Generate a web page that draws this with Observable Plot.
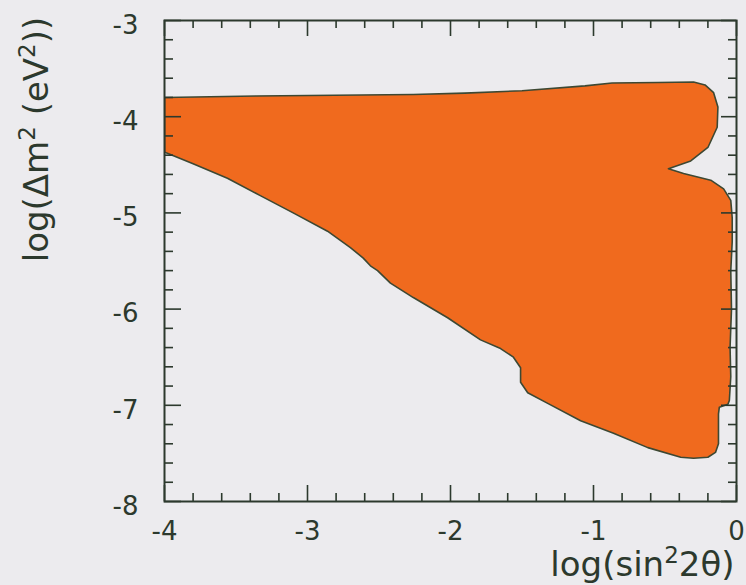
<!DOCTYPE html>
<html>
<head>
<meta charset="utf-8">
<script src="https://cdn.jsdelivr.net/npm/d3@7"></script>
<script src="https://cdn.jsdelivr.net/npm/@observablehq/plot@0.6"></script>
<style>
  body { margin: 0; background: #ecebee; }
  #chart svg { display: block; }
</style>
</head>
<body>
<div id="chart"></div>
<script>
// Allowed region in the (log sin²2θ, log Δm²) plane, traced clockwise
// from the upper-left corner of the frame.
const logSin2 = [
  -4.00, -3.36, -2.26, -1.90, -1.50, -1.06, -0.87, -0.55, -0.30, -0.22,
  -0.16, -0.13, -0.135, -0.20, -0.32, -0.476, -0.37, -0.18, -0.09, -0.04,
  -0.03, -0.03, -0.04, -0.035, -0.045, -0.04, -0.05, -0.06, -0.12, -0.126,
  -0.126, -0.147, -0.20, -0.30, -0.39, -0.62, -0.86, -1.09, -1.32, -1.46,
  -1.51, -1.51, -1.56, -1.65, -1.79, -2.02, -2.26, -2.42, -2.51, -2.56,
  -2.61, -2.70, -2.86, -3.10, -3.33, -3.56, -3.80, -3.98, -4.00
];
const logDm2 = [
  -3.80, -3.785, -3.77, -3.755, -3.73, -3.68, -3.65, -3.645, -3.64, -3.67,
  -3.75, -3.90, -4.11, -4.32, -4.46, -4.54, -4.59, -4.66, -4.75, -4.87,
  -5.05, -5.30, -5.60, -6.00, -6.40, -6.70, -6.95, -6.99, -7.02, -7.09,
  -7.40, -7.49, -7.54, -7.55, -7.54, -7.44, -7.29, -7.16, -6.98, -6.87,
  -6.76, -6.61, -6.50, -6.41, -6.32, -6.09, -5.88, -5.73, -5.60, -5.55,
  -5.47, -5.36, -5.19, -5.00, -4.82, -4.64, -4.49, -4.38, -4.37
];

// Axis ticks
const xMajor = [-4, -3, -2, -1, 0];
const yMajor = [-8, -7, -6, -5, -4, -3];
const xMinor = d3.range(-4, 0.001, 0.2).map(v => +v.toFixed(1)).filter(v => !Number.isInteger(v));
const yMinor = d3.range(-8, -2.999, 0.2).map(v => +v.toFixed(1)).filter(v => !Number.isInteger(v));

const xTitle = "log(sin²2θ)";
const yTitle = "log(Δm² (eV²))";

const region = logSin2.map((s, i) => ({s, m: logDm2[i]}));

const W = 746, H = 585;
const mL = 164, mR = 10, mT = 20, mB = 84;
const innerW = W - mL - mR, innerH = H - mT - mB;
const ink = "#2c392d";
const titleSize = 34;

const chart = Plot.plot({
  width: W,
  height: H,
  marginLeft: mL,
  marginRight: mR,
  marginTop: mT,
  marginBottom: mB,
  style: {background: "#ecebee", fontFamily: "'DejaVu Sans', sans-serif", color: ink},
  x: {domain: [-4, 0], axis: null},
  y: {domain: [-8, -3], axis: null},
  marks: [
    Plot.line(region, {
      x: "s", y: "m", curve: "linear-closed", clip: "frame",
      fill: "#f06a1e", stroke: "#3d4833", strokeWidth: 1.6, strokeLinejoin: "round"
    }),
    // bottom ticks
    Plot.ruleX(xMajor, {x: d => d, insetTop: innerH - 16, stroke: ink, strokeWidth: 1.6}),
    Plot.ruleX(xMinor, {x: d => d, insetTop: innerH - 8, stroke: ink, strokeWidth: 1.6}),
    // top ticks
    Plot.ruleX(xMajor, {x: d => d, insetBottom: innerH - 16, stroke: ink, strokeWidth: 1.6}),
    Plot.ruleX(xMinor, {x: d => d, insetBottom: innerH - 8, stroke: ink, strokeWidth: 1.6}),
    // left ticks
    Plot.ruleY(yMajor, {y: d => d, insetRight: innerW - 17, stroke: ink, strokeWidth: 1.6}),
    Plot.ruleY(yMinor, {y: d => d, insetRight: innerW - 9, stroke: ink, strokeWidth: 1.6}),
    // right ticks
    Plot.ruleY(yMajor, {y: d => d, insetLeft: innerW - 15, stroke: ink, strokeWidth: 1.6}),
    Plot.ruleY(yMinor, {y: d => d, insetLeft: innerW - 8, stroke: ink, strokeWidth: 1.6}),
    Plot.frame({stroke: ink, strokeWidth: 2}),
    // tick labels
    Plot.text(xMajor, {
      x: d => d, text: d => String(d), frameAnchor: "bottom",
      lineAnchor: "top", dy: 20, fontSize: 26, fill: ink
    }),
    Plot.text(yMajor, {
      y: d => d, text: d => String(d), frameAnchor: "left",
      textAnchor: "end", lineAnchor: "middle", dx: -26, dy: 5, fontSize: 26, fill: ink
    }),
    // axis titles
    Plot.text([xTitle], {
      text: d => d, frameAnchor: "bottom-right", textAnchor: "end",
      lineAnchor: "bottom", dx: -2, dy: 74, fontSize: titleSize, fill: ink
    }),
    Plot.text([yTitle], {
      text: d => d, frameAnchor: "top-left", textAnchor: "middle",
      lineAnchor: "bottom", rotate: -90, dx: -117, dy: 119, fontSize: titleSize, fill: ink
    })
  ]
});

// Typeset the "²" in the axis titles as real superscripts.
const supSize = Math.round(titleSize * 0.68);
const rise = Math.round(titleSize * 0.38);
d3.select(chart).selectAll("text").each(function () {
  const node = this;
  const content = node.textContent;
  if (!content.includes("²")) return;
  const parts = content.split("²");
  node.textContent = "";
  parts.forEach((part, i) => {
    if (i > 0) {
      d3.select(node).append("tspan")
        .attr("dy", -rise).attr("font-size", supSize).text("2");
    }
    if (part) {
      d3.select(node).append("tspan")
        .attr("dy", i > 0 ? rise : 0).text(part);
    }
  });
});

document.getElementById("chart").append(chart);
</script>
</body>
</html>
